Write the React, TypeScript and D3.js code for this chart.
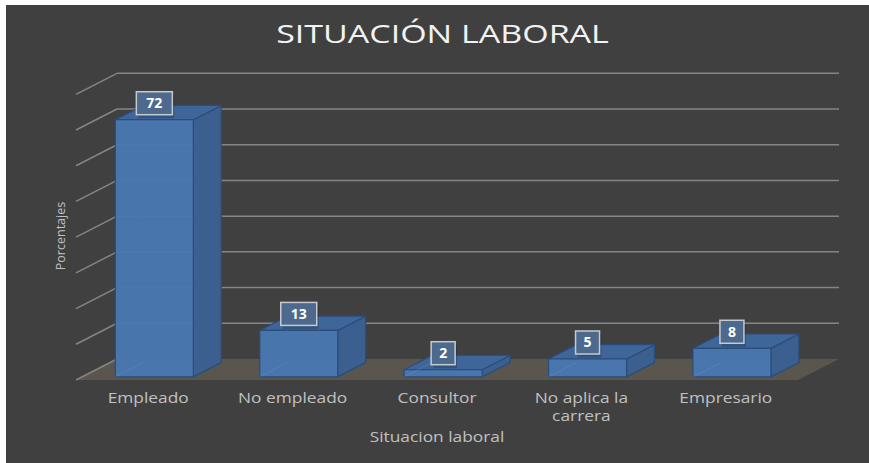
import React from "react";
import * as d3 from "d3";

const categories = ["Empleado", "No empleado", "Consultor", "No aplica la carrera", "Empresario"];
const values = [72, 13, 2, 5, 8];
const yTicks = [0, 10, 20, 30, 40, 50, 60, 70, 80];
const title = "SITUACIÓN LABORAL";
const xTitle = "Situacion laboral";
const yTitle = "Porcentajes";

const W = 869;
const H = 463;
const FRONT_Y = 380; // floor front edge
const DX = 41; // depth offset x
const DY = 21; // depth offset y
const Z0 = 0.15;
const Z1 = 0.83;
const STRETCH = 1.24;

function wrap(text: string, max: number): string[] {
  const words = text.split(" ");
  const lines: string[] = [];
  let cur = "";
  for (const w of words) {
    const t = cur ? cur + " " + w : w;
    if (t.length > max && cur) {
      lines.push(cur);
      cur = w;
    } else cur = t;
  }
  if (cur) lines.push(cur);
  return lines;
}

export default function App() {
  const x = d3
    .scaleBand<string>()
    .domain(categories)
    .range([76, 798])
    .paddingInner(0.46)
    .paddingOuter(0.23);
  const xc = d3.scaleBand<string>().domain(categories).range([76, 798]).padding(0);
  const y = d3.scaleLinear().domain([0, 80]).range([0, 285.7]);

  const P = (sx: number, v: number, z: number): [number, number] => [sx + z * DX, FRONT_Y - y(v) - z * DY];
  const poly = (pts: [number, number][]) => pts.map((p) => p.join(",")).join(" ");

  const x0 = 76;
  const x1 = 798;

  return (
    <svg
      width={W}
      height={H}
      style={{ position: "absolute", left: 0, top: 0, display: "block", background: "#ffffff" }}
      fontFamily="'Open Sans', sans-serif"
    >
      <rect x={6} y={5} width={W - 6} height={H - 5} fill="#404040" />
      {/* title */}
      <g transform={`translate(442.5,43) scale(1.36,1)`}>
        <text textAnchor="middle" fontSize={25} fill="#f2f2f2">
          {title}
        </text>
      </g>
      {/* floor */}
      <polygon
        points={poly([P(x0, 0, 0), P(x0, 0, 1), P(x1, 0, 1), P(x1, 0, 0)])}
        fill="#5a564e"
      />
      {/* back wall gridlines & left wall lines */}
      {yTicks.map((t) => {
        const a = P(x0, t, 0);
        const b = P(x0, t, 1);
        const c = P(x1, t, 1);
        return (
          <g key={t}>
            <line x1={a[0]} y1={a[1]} x2={b[0]} y2={b[1]} stroke="#858585" strokeWidth={1.5} />
            {t > 0 && <line x1={b[0]} y1={b[1]} x2={c[0]} y2={c[1]} stroke="#858585" strokeWidth={1.5} />}
          </g>
        );
      })}
      {/* bars */}
      {categories.map((cat, i) => {
        const v = values[i];
        const l = x(cat)!;
        const r = l + x.bandwidth();
        const fbl = P(l, 0, Z0), fbr = P(r, 0, Z0), ftl = P(l, v, Z0), ftr = P(r, v, Z0);
        const bbl = P(l, 0, Z1), bbr = P(r, 0, Z1), btl = P(l, v, Z1), btr = P(r, v, Z1);
        const cx = (ftl[0] + ftr[0]) / 2;
        const label = String(v);
        const bw = label.length > 1 ? 36 : 24;
        const by = ftl[1] - 16.5;
        return (
          <g key={cat}>
            {/* inner hidden edges */}
            <line x1={bbl[0]} y1={bbl[1]} x2={btl[0]} y2={btl[1]} stroke="#2a4d7c" strokeOpacity={0.5} />
            <line x1={bbl[0]} y1={bbl[1]} x2={bbr[0]} y2={bbr[1]} stroke="#2a4d7c" strokeOpacity={0.5} />
            <polygon points={poly([fbr, bbr, btr, ftr])} fill="#3b5f8e" stroke="#2a4d7c" strokeWidth={1.2} />
            <polygon points={poly([ftl, ftr, btr, btl])} fill="#3f6698" stroke="#2a4d7c" strokeWidth={1.2} />
            <polygon points={poly([fbl, fbr, ftr, ftl])} fill="#4a78b2" fillOpacity={0.96} stroke="#2a4d7c" strokeWidth={1.2} />
            <line x1={fbl[0]} y1={fbl[1]} x2={bbl[0]} y2={bbl[1]} stroke="#6a93c6" strokeOpacity={0.35} />
            {/* data label */}
            <rect x={cx - bw / 2 + 2} y={by - 11 + 3} width={bw} height={23} fill="#000" opacity={0.18} />
            <rect x={cx - bw / 2} y={by - 11.5} width={bw} height={23} fill="#4d6a8e" stroke="#c5cad0" strokeWidth={1.5} />
            <text x={cx} y={by + 5} textAnchor="middle" fontSize={14} fontWeight="bold" fill="#ffffff">
              {label}
            </text>
          </g>
        );
      })}
      {/* category labels */}
      {categories.map((cat) => {
        const cx = xc(cat)! + xc.bandwidth() / 2;
        return (
          <g key={cat} transform={`translate(${cx},403) scale(${STRETCH},1)`}>
            {wrap(cat, 12).map((ln, j) => (
              <text key={j} y={j * 18} textAnchor="middle" fontSize={14} fill="#c0c0c0">
                {ln}
              </text>
            ))}
          </g>
        );
      })}
      {/* axis titles */}
      <g transform={`translate(437,442) scale(${STRETCH},1)`}>
        <text textAnchor="middle" fontSize={14} fill="#c0c0c0">
          {xTitle}
        </text>
      </g>
      <text
        transform="translate(65,236) rotate(-90)"
        textAnchor="middle"
        fontSize={12.5}
        fill="#c0c0c0"
      >
        {yTitle}
      </text>
    </svg>
  );
}
